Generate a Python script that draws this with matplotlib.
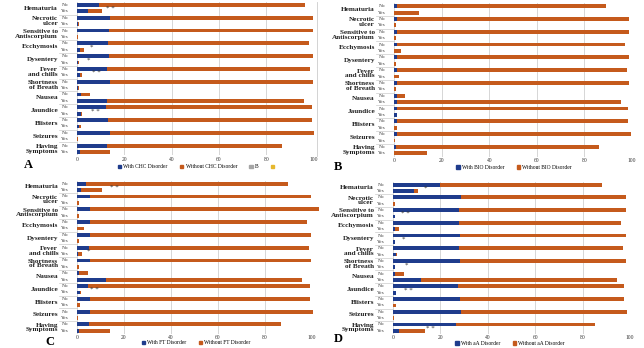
#!/usr/bin/env python3

import matplotlib
matplotlib.use('Agg')
import matplotlib.pyplot as plt
from matplotlib.patches import Patch

plt.rcParams['font.family'] = ['Liberation Serif', 'DejaVu Serif']

BLUE = '#1F3C8C'
ORANGE = '#C55A1C'

categories = ['Hematuria', 'Necrotic\nulcer', 'Sensitive to\nAntiscorpium', 'Ecchymosis',
              'Dysentery', 'Fever\nand chills', 'Shortness\nof Breath', 'Nausea',
              'Jaundice', 'Blisters', 'Seizures', 'Having\nSymptoms']
answers = ['No', 'Yes']
ticks = [0, 20, 40, 60, 80, 100]

# rows go No, Yes for each category, top to bottom
a_with = [9.3, 4.5, 13.8, 0.3, 13.4, 0.2, 12.9, 1.3, 13.4, 0.5, 12.6, 1.3,
          13.8, 0.3, 1.6, 12.7, 12.2, 1.7, 13.3, 0.8, 13.8, 0.2, 12.7, 1.4]
a_without = [87.2, 6.2, 85.9, 0.5, 86.3, 0.3, 85.1, 1.7, 86.3, 0.3, 86.1, 1.0,
             85.9, 0.5, 3.8, 83.3, 87.1, 0.3, 86.0, 0.9, 86.6, 0.4, 74.0, 12.7]

b_with = [1.1, 0.2, 1.2, 0.1, 1.2, 0.1, 1.2, 0.1, 1.2, 0.1, 1.2, 0.1,
          1.2, 0.1, 1.2, 1.2, 1.2, 1.2, 1.2, 0.1, 1.2, 0.1, 1.0, 0.1]
b_without = [87.9, 10.4, 97.7, 0.7, 97.7, 0.7, 96.0, 2.7, 97.7, 0.7, 96.6, 1.9,
             97.7, 0.7, 3.6, 94.0, 97.1, 0.2, 97.1, 1.3, 98.2, 0.4, 85.0, 13.6]

c_with = [4.0, 1.8, 5.7, 0.1, 5.7, 0.1, 5.7, 0.1, 5.4, 0.1, 5.2, 0.5,
          5.7, 0.1, 1.0, 12.5, 4.7, 1.3, 5.7, 0.1, 5.7, 0.1, 5.2, 0.7]
c_without = [85.6, 8.8, 94.0, 0.7, 97.1, 0.7, 92.2, 2.7, 94.3, 0.7, 93.4, 1.6,
             94.0, 0.7, 3.7, 83.2, 94.3, 0.2, 93.3, 1.2, 94.6, 0.3, 81.6, 13.2]

d_with = [19.9, 8.7, 28.8, 0.1, 27.9, 0.7, 27.9, 1.0, 28.1, 0.7, 27.7, 1.3,
          28.1, 0.7, 0.8, 11.9, 27.4, 1.3, 28.4, 0.1, 28.7, 0.1, 26.5, 2.4]
d_without = [68.4, 1.8, 69.5, 0.6, 70.4, 0.1, 68.3, 1.7, 70.1, 0.1, 69.5, 0.5,
             70.1, 0.1, 3.7, 82.5, 70.2, 0.1, 69.2, 1.2, 70.0, 0.3, 58.8, 11.2]

# significance marks: (category index, x position, text)
a_stars = [(0, 14, '* *'), (3, 6.3, '*'), (4, 5, '*'), (5, 8, '* *'), (8, 7.7, '* *')]
b_stars = []
c_stars = [(0, 15.7, '* *'), (5, 4.7, '*'), (8, 7.5, '* *')]
d_stars = [(0, 13.5, '*'), (2, 5.2, '* *'), (4, 4.5, '*'), (6, 5.6, '*'),
           (8, 6.6, '* *'), (11, 15.7, '* *')]

W, H = 644, 348
fig = plt.figure(figsize=(W / 100, H / 100), dpi=100)


def draw_panel(rect, with_vals, without_vals, stars, letter, letter_xy,
               legend_labels, legend_xy, extra_legend=False):
    x0, y0, x1, y1 = rect
    ax = fig.add_axes([x0 / W, 1 - y1 / H, (x1 - x0) / W, (y1 - y0) / H])
    ypos = list(range(len(with_vals)))
    ax.barh(ypos, with_vals, height=0.6, color=BLUE, clip_on=False, zorder=3)
    ax.barh(ypos, without_vals, left=with_vals, height=0.6, color=ORANGE,
            clip_on=False, zorder=3)
    ax.set_ylim(len(with_vals) - 0.5, -0.5)
    ax.set_xlim(0, 100)
    ax.set_xticks(ticks)
    ax.set_yticks([])
    ax.tick_params(axis='x', length=0, labelsize=4, pad=1, colors='#333333')
    ax.grid(axis='x', color='#d0d0d0', linewidth=0.6, zorder=0)
    for s in ax.spines.values():
        s.set_visible(False)

    tr = ax.get_yaxis_transform()
    for i, cat in enumerate(categories):
        for j, ans in enumerate(answers):
            ax.text(-0.036, 2 * i + j, ans, transform=tr, ha='right', va='center',
                    fontsize=3.8, color='#333333')
        ax.text(-0.08, 2 * i + 0.5, cat, transform=tr, ha='right', va='center',
                fontsize=5.2, fontweight='bold', linespacing=0.9, color='#222222')
        if i > 0:
            ax.plot([-0.075, 0], [2 * i - 0.5] * 2, transform=tr, color='#cccccc',
                    linewidth=0.5, clip_on=False)
    for idx, xv, txt in stars:
        ax.text(xv, 2 * idx + 0.6, txt, ha='center', va='center', fontsize=5,
                color='#333333', zorder=4)

    fig.text(letter_xy[0] / W, 1 - letter_xy[1] / H, letter, fontsize=9,
             fontweight='bold', ha='center', va='center')

    handles = [Patch(color=BLUE), Patch(color=ORANGE)]
    labels = list(legend_labels)
    if extra_legend:
        handles += [Patch(color='#a5a5a5'), Patch(color='#e6b82e')]
        labels += ['B', '']
    fig.legend(handles, labels, loc='center',
               bbox_to_anchor=(legend_xy[0] / W, 1 - legend_xy[1] / H),
               ncol=len(handles), fontsize=4, frameon=False, handlelength=0.6,
               handleheight=0.6, handletextpad=0.4, columnspacing=2.2,
               borderpad=0.1)
    return ax


draw_panel((77, 1.8, 313.5, 155.2), a_with, a_without, a_stars, 'A', (28, 165),
           ['With CHC Disorder', 'Without CHC Disorder'], (197, 167), extra_legend=True)
draw_panel((394, 3.0, 632, 156.5), b_with, b_without, b_stars, 'B', (338, 167),
           ['With BIO Disorder', 'Without BIO Disorder'], (514, 167.5))
draw_panel((77, 180.5, 312, 334), c_with, c_without, c_stars, 'C', (50, 342),
           ['With FT Disorder', 'Without FT Disorder'], (196, 343))
draw_panel((393, 181.5, 630, 334), d_with, d_without, d_stars, 'D', (338, 339),
           ['With aA Disorder', 'Without aA Disorder'], (510, 343.5))

fig.add_artist(plt.Line2D([317 / W] * 2, [1 - 2 / H, 1 - 156 / H],
                          color='#cccccc', linewidth=0.6))

fig.savefig('out.png', dpi=100)
